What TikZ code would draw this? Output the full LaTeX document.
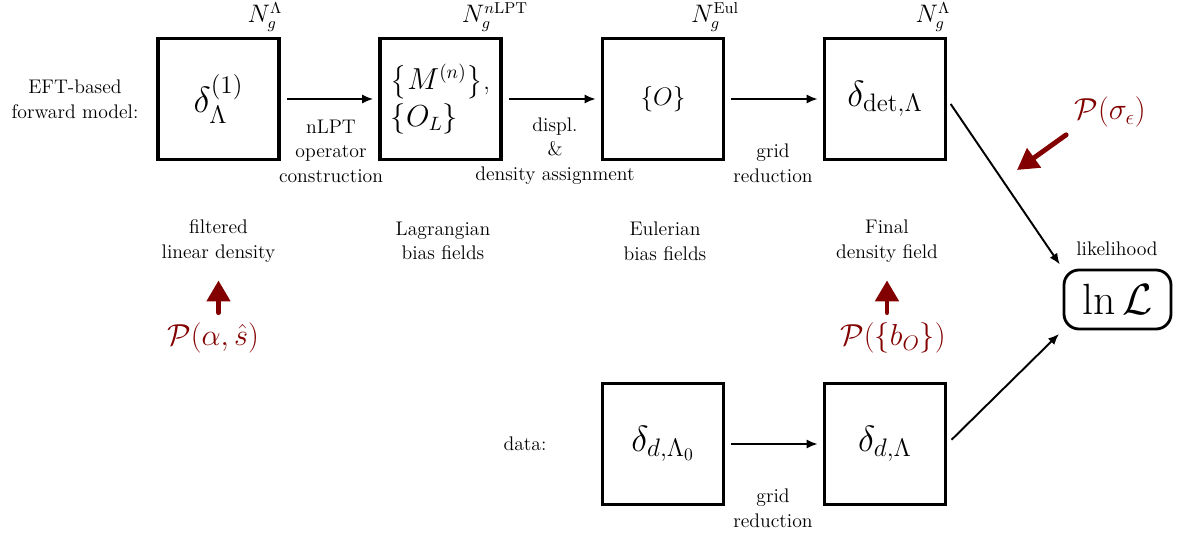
\documentclass[tikz,border=0pt]{standalone}
\usepackage{amsmath}
\usepackage{amssymb}
\usepackage{xcolor}
\usetikzlibrary{arrows.meta}
\definecolor{priorred}{RGB}{130,0,0}

\begin{document}
\begin{tikzpicture}[
        font=\fontsize{11.2}{14}\selectfont,
        field/.style={rectangle, draw, line width=2pt, minimum size=2.42cm, inner sep=0pt},
        flow/.style={-{Latex[length=2.2mm, width=1.8mm]}, line width=1.1pt, shorten <=0.12cm, shorten >=0.1cm},
        prior/.style={-{Triangle[length=0.42cm, width=0.46cm]}, line width=2.8pt, priorred, line cap=round},
        desc/.style={align=center},
        bigmath/.style={font=\fontsize{20}{24}\selectfont},
        gridlabel/.style={font=\fontsize{13.5}{16}\selectfont, inner sep=1pt},
        priorlabel/.style={text=priorred, font=\fontsize{17}{20}\selectfont},
    ]
        \useasboundingbox (0,0) rectangle (23.66,-10.74);

        % forward model
        \node[desc] (fwd) at (1.5,-1.98) {EFT-based\\forward model:};
        \node[field, bigmath] (lin) at (4.37,-1.98) {$\delta^{(1)}_\Lambda$};
        \node[field, font=\fontsize{16}{21}\selectfont, align=left] (lag) at (8.81,-1.98) {$\left\{M^{(n)}\right\}$,\\$\{O_L\}$};
        \node[field, font=\fontsize{15}{18}\selectfont] (eul) at (13.26,-1.98) {$\{O\}$};
        \node[field, bigmath] (det) at (17.70,-1.98) {$\delta_{\mathrm{det},\Lambda}$};

        \node[gridlabel] (nlin) at (5.3,-0.34) {$N_g^{\Lambda}$};
        \node[gridlabel] (nlag) at (9.9,-0.34) {$N_g^{n\mathrm{LPT}}$};
        \node[gridlabel] (neul) at (14.3,-0.34) {$N_g^{\mathrm{Eul}}$};
        \node[gridlabel] (ndet) at (18.66,-0.34) {$N_g^{\Lambda}$};

        \node[desc] (op) at (6.62,-3.02) {nLPT\\operator\\construction};
        \node[desc] (displ) at (11.1,-3.02) {displ.\\\&\\density assignment};
        \node[desc] (red) at (15.46,-3.26) {grid\\reduction};

        \draw[flow] (lin) -- (lag);
        \draw[flow] (lag) -- (eul);
        \draw[flow] (eul) -- (det);

        \node[desc] (filt) at (4.37,-4.82) {filtered\\linear density};
        \node[desc] (lagf) at (8.86,-4.82) {Lagrangian\\bias fields};
        \node[desc] (eulf) at (13.3,-4.82) {Eulerian\\bias fields};
        \node[desc] (final) at (17.74,-4.82) {Final\\density field};

        % priors
        \node[priorlabel] (palpha) at (4.26,-6.76) {$\mathcal{P}(\alpha,\hat{s})$};
        \node[priorlabel] (pbias) at (17.86,-6.76) {$\mathcal{P}(\{b_O\})$};
        \node[priorlabel] (psig) at (22.2,-2.24) {$\mathcal{P}(\sigma_\epsilon)$};
        \coordinate (sigtip) at (20.34,-3.4);

        \draw[prior, shorten <=0.08cm, shorten >=0.24cm] (palpha.north -| filt.south) -- (filt.south);
        \draw[prior, shorten <=0.08cm, shorten >=0.24cm] (pbias.north -| final.south) -- (final.south);
        \draw[prior, shorten <=0.05cm] (psig.south west) -- (sigtip);

        % data
        \node (data) at (10.5,-8.88) {data:};
        \node[field, bigmath] (dobs) at (13.26,-8.88) {$\delta_{d,\Lambda_0}$};
        \node[field, bigmath] (dlam) at (17.70,-8.88) {$\delta_{d,\Lambda}$};
        \node[desc] (dred) at (15.46,-10.16) {grid\\reduction};
        \draw[flow] (dobs) -- (dlam);

        % likelihood
        \node[rectangle, rounded corners=0.3cm, draw, line width=1.6pt, minimum width=2.14cm, minimum height=1.18cm, font=\fontsize{25}{28}\selectfont] (lik) at (22.35,-5.99) {$\ln\mathcal{L}$};
        \node (likl) at (22.34,-4.98) {likelihood};

        \draw[flow] (det.east) -- (lik.north west);
        \draw[flow] (dlam.east) -- (lik.south west);
    \end{tikzpicture}
\end{document}
